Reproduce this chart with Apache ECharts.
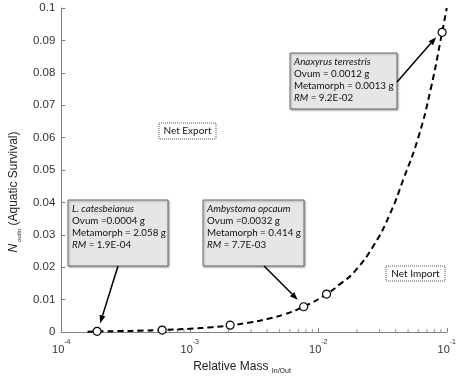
<!DOCTYPE html>
<html>
<head>
<meta charset="utf-8">
<script src="https://cdn.jsdelivr.net/npm/echarts@6/dist/echarts.min.js"></script>
<style>
  html, body { margin: 0; padding: 0; background: #fff; }
  #chart { width: 459px; height: 380px; }
</style>
</head>
<body>
<div id="chart"></div>
<script>
// dashed curve
const curveX = [0.00016, 0.0002, 0.0003, 0.0004, 0.0006, 0.001, 0.0015, 0.002, 0.003, 0.004, 0.0055, 0.0077, 0.0116, 0.015, 0.019, 0.027, 0.036, 0.046, 0.06, 0.075, 0.092, 0.1]
const curveY = [0.0001, 0.0002, 0.0003, 0.0004, 0.0006, 0.001, 0.0015, 0.002, 0.003, 0.004, 0.0055, 0.0078, 0.0117, 0.015, 0.0185, 0.0267, 0.0363, 0.0472, 0.06, 0.075, 0.0925, 0.1]
// open circles
const pointX = [0.00019, 0.00061, 0.00206, 0.0077, 0.0116, 0.092]
const pointY = [0.0002, 0.0006, 0.0021, 0.0078, 0.0117, 0.0925]
// minor ticks on the log axis
const minorTicks = [2e-4, 3e-4, 4e-4, 5e-4, 6e-4, 7e-4, 8e-4, 9e-4,
  2e-3, 3e-3, 4e-3, 5e-3, 6e-3, 7e-3, 8e-3, 9e-3,
  2e-2, 3e-2, 4e-2, 5e-2, 6e-2, 7e-2, 8e-2, 9e-2]

const notes = [
  { title: 'L. catesbeianus', ovum: 'Ovum =0.0004 g', meta: 'Metamorph = 2.058 g', rm: ' = 1.9E-04', point: 0 },
  { title: 'Ambystoma opcaum', ovum: 'Ovum =0.0032 g', meta: 'Metamorph = 0.414 g', rm: ' = 7.7E-03', point: 3 },
  { title: 'Anaxyrus terrestris', ovum: 'Ovum = 0.0012 g', meta: 'Metamorph = 0.0013 g', rm: ' = 9.2E-02', point: 5 }
]

const chart = echarts.init(document.getElementById('chart'))
const axisColor = '#7f7f7f'
const font = 'Liberation Sans'

const option = {
  animation: false,
  grid: { left: 52, right: 12, top: 8, bottom: 39 },
  xAxis: {
    type: 'log',
    logBase: 10,
    min: 1e-4,
    max: 0.1,
    name: '{a|Relative Mass }{s|In/Out}',
    nameLocation: 'middle',
    nameGap: 27,
    nameTextStyle: {
      padding: [0, 24, 0, 0],
      rich: {
        a: { fontFamily: font, fontSize: 12, color: '#222', lineHeight: 16, verticalAlign: 'middle' },
        s: { fontFamily: font, fontSize: 7, color: '#222', lineHeight: 16, verticalAlign: 'bottom' }
      }
    },
    axisLine: { lineStyle: { color: axisColor, width: 1 } },
    axisTick: { inside: true, length: 4, lineStyle: { color: axisColor } },
    splitLine: { show: false },
    axisLabel: {
      margin: 7,
      formatter: v => '{b|10}{s|' + Math.round(Math.log10(v)) + '}',
      rich: {
        b: { fontFamily: font, fontSize: 11, color: '#333', lineHeight: 16, verticalAlign: 'bottom' },
        s: { fontFamily: font, fontSize: 7, color: '#333', lineHeight: 16, verticalAlign: 'top' }
      }
    }
  },
  yAxis: {
    type: 'value',
    min: 0,
    max: 0.1,
    interval: 0.01,
    name: '{n|N}{s| outIn}{a| (Aquatic Survival)}',
    nameLocation: 'middle',
    nameGap: 39,
    nameTextStyle: {
      padding: [0, 44, 0, 0],
      rich: {
        n: { fontFamily: font, fontSize: 12, fontStyle: 'italic', color: '#222', lineHeight: 16, verticalAlign: 'middle' },
        s: { fontFamily: font, fontSize: 6, color: '#222', lineHeight: 16, verticalAlign: 'bottom' },
        a: { fontFamily: font, fontSize: 12, color: '#222', lineHeight: 16, verticalAlign: 'middle' }
      }
    },
    axisLine: { show: true, lineStyle: { color: axisColor, width: 1 } },
    axisTick: { show: true, inside: true, length: 4, lineStyle: { color: axisColor } },
    splitLine: { show: false },
    axisLabel: {
      margin: 6,
      fontFamily: font,
      fontSize: 11.5,
      color: '#333',
      formatter: v => String(+v.toFixed(2))
    }
  },
  series: [
    {
      type: 'line',
      data: curveX.map((x, i) => [x, curveY[i]]),
      smooth: true,
      showSymbol: false,
      lineStyle: { color: '#000', width: 2, type: [6, 4] },
      z: 2
    },
    {
      type: 'scatter',
      data: pointX.map((x, i) => [x, pointY[i]]),
      symbol: 'circle',
      symbolSize: 8,
      itemStyle: { color: '#fff', borderColor: '#000', borderWidth: 1.2, opacity: 1 },
      z: 4
    },
    {
      type: 'scatter',
      data: minorTicks.map(x => [x, 0]),
      symbol: 'rect',
      symbolSize: [1, 3],
      symbolOffset: [0, -1.5],
      itemStyle: { color: axisColor },
      silent: true,
      z: 1
    }
  ]
}
chart.setOption(option)

// annotation boxes, positioned in pixels; arrows end at the data points
const boxes = [
  { x: 68, y: 200, w: 100, h: 66, sx: 118, sy: 266, dx: 3, dy: -8 },
  { x: 203, y: 200, w: 101, h: 66, sx: 264, sy: 266, dx: -6, dy: -7 },
  { x: 290, y: 53, w: 107, h: 56, sx: 397, sy: 82, dx: -6, dy: 5 }
]

function arrow (sx, sy, ex, ey) {
  const ang = Math.atan2(ey - sy, ex - sx)
  const len = 8
  const half = 3
  const bx = ex - len * Math.cos(ang)
  const by = ey - len * Math.sin(ang)
  const px = -Math.sin(ang) * half
  const py = Math.cos(ang) * half
  return [
    { type: 'line', shape: { x1: sx, y1: sy, x2: bx, y2: by }, style: { stroke: '#000', lineWidth: 1.5 }, z: 10 },
    { type: 'polygon', shape: { points: [[ex, ey], [bx + px, by + py], [bx - px, by - py]] }, style: { fill: '#000' }, z: 10 }
  ]
}

const textRich = {
  i: { fontFamily: 'Lato', fontSize: 9.8, fontStyle: 'italic', fill: '#111', lineHeight: 12 },
  r: { fontFamily: 'Lato', fontSize: 9.8, fill: '#111', lineHeight: 12 }
}

const graphic = []
notes.forEach((n, k) => {
  const b = boxes[k]
  graphic.push({
    type: 'rect',
    shape: { x: b.x, y: b.y, width: b.w, height: b.h },
    style: { fill: '#e6e6e6', stroke: '#6f6f6f', lineWidth: 1, shadowBlur: 2, shadowOffsetX: 1, shadowOffsetY: 1, shadowColor: 'rgba(0,0,0,0.35)' },
    z: 8
  })
  graphic.push({
    type: 'text',
    x: b.x + 4,
    y: b.y + 3,
    style: {
      text: '{i|' + n.title + '}\n{r|' + n.ovum + '}\n{r|' + n.meta + '}\n{i|RM}{r|' + n.rm + '}',
      rich: textRich
    },
    z: 9
  })
  const p = chart.convertToPixel({ gridIndex: 0 }, [pointX[n.point], pointY[n.point]])
  graphic.push(...arrow(b.sx, b.sy, p[0] + b.dx, p[1] + b.dy))
})

const regionLabels = [
  { text: 'Net Export', x: 159, y: 123, w: 57, h: 16 },
  { text: 'Net Import', x: 386, y: 266, w: 59, h: 15 }
]
regionLabels.forEach(r => {
  graphic.push({
    type: 'rect',
    shape: { x: r.x, y: r.y, width: r.w, height: r.h },
    style: { fill: '#fff', stroke: '#555', lineWidth: 1, lineDash: [1, 1] },
    z: 8
  })
  graphic.push({
    type: 'text',
    x: r.x + r.w / 2,
    y: r.y + r.h / 2,
    style: { text: r.text, fontFamily: 'Lato', fontSize: 10, fill: '#111', align: 'center', verticalAlign: 'middle' },
    z: 9
  })
})

chart.setOption({ graphic: graphic })
</script>
</body>
</html>
